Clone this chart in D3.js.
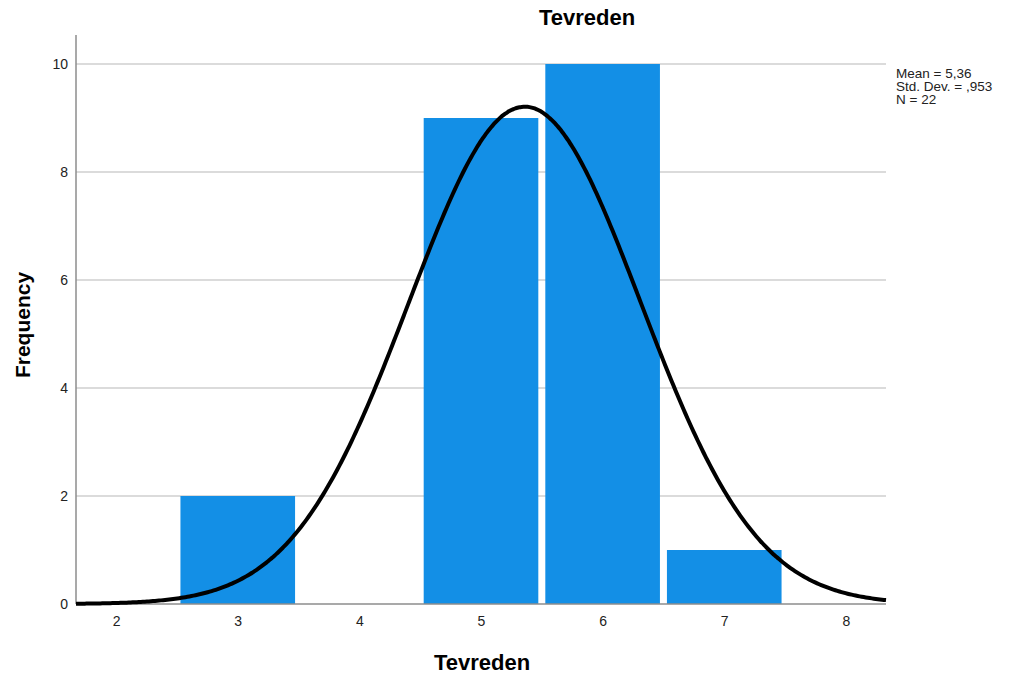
<!DOCTYPE html>
<html>
<head>
<meta charset="utf-8">
<script src="https://cdn.jsdelivr.net/npm/d3@7"></script>
<style>
  body { margin: 0; background: #fff; }
  text { font-family: Arial, "Liberation Sans", sans-serif; }
</style>
</head>
<body>
<svg id="chart" width="1011" height="681"></svg>
<script>
// Frequency histogram of "Tevreden" with a fitted normal curve
const binValues = [3, 4, 5, 6, 7];
const frequencies = [2, 0, 9, 10, 1];
const xTickValues = [2, 3, 4, 5, 6, 7, 8];
const yTickValues = [0, 2, 4, 6, 8, 10];
const statLines = ["Mean = 5,36", "Std. Dev. = ,953", "N = 22"];
const mean = 5.36, stdDev = 0.953, n = 22;

const svg = d3.select("#chart");
const plotLeft = 76, plotRight = 886, plotTop = 35, plotBottom = 604;

const x = d3.scaleLinear().domain([1.67, 8.33]).range([plotLeft, plotRight]);
const y = d3.scaleLinear().domain([0, 10]).range([plotBottom, 64]);

// gridlines
svg.append("g").selectAll("line").data(yTickValues.filter(d => d > 0)).join("line")
  .attr("x1", plotLeft).attr("x2", plotRight)
  .attr("y1", d => y(d)).attr("y2", d => y(d))
  .attr("stroke", "#cfcfcf").attr("stroke-width", 1.5);

// bars
svg.append("g").selectAll("rect").data(binValues.map((b, i) => ({b, f: frequencies[i]})).filter(d => d.f > 0))
  .join("rect")
  .attr("x", d => x(d.b - 0.5) + 3.5)
  .attr("width", d => x(d.b + 0.5) - x(d.b - 0.5) - 7)
  .attr("y", d => y(d.f))
  .attr("height", d => y(0) - y(d.f))
  .attr("fill", "#138fe6");

// y axis
const yAxis = svg.append("g").attr("transform", `translate(${plotLeft},0)`)
  .call(d3.axisLeft(y).tickValues(yTickValues).tickFormat(d3.format("d")).tickSize(0).tickPadding(8));
yAxis.select(".domain").remove();
yAxis.selectAll("text").attr("font-size", 14).attr("fill", "#222");
svg.append("line").attr("x1", plotLeft).attr("x2", plotLeft).attr("y1", plotTop).attr("y2", plotBottom)
  .attr("stroke", "#8c8c8c").attr("stroke-width", 1.5);

// x axis
const xAxis = svg.append("g").attr("transform", `translate(0,${plotBottom})`)
  .call(d3.axisBottom(x).tickValues(xTickValues).tickFormat(d3.format("d")).tickSize(0).tickPadding(12));
xAxis.select(".domain").remove();
xAxis.selectAll("text").attr("font-size", 14).attr("fill", "#222");
svg.append("line").attr("x1", plotLeft).attr("x2", plotRight).attr("y1", plotBottom).attr("y2", plotBottom)
  .attr("stroke", "#8c8c8c").attr("stroke-width", 1.5);

// normal curve scaled to counts (bin width 1)
const pdf = v => n / (stdDev * Math.sqrt(2 * Math.PI)) * Math.exp(-0.5 * ((v - mean) / stdDev) ** 2);
const xs = d3.range(0, 401).map(i => x.domain()[0] + (x.domain()[1] - x.domain()[0]) * i / 400);
svg.append("path")
  .datum(xs)
  .attr("d", d3.line().x(d => x(d)).y(d => y(pdf(d))).curve(d3.curveBasis))
  .attr("fill", "none").attr("stroke", "#000").attr("stroke-width", 4);

// titles
svg.append("text").attr("x", 587).attr("y", 25).attr("text-anchor", "middle")
  .attr("font-size", 22).attr("font-weight", "bold").text("Tevreden");
svg.append("text").attr("x", 482).attr("y", 670).attr("text-anchor", "middle")
  .attr("font-size", 22).attr("font-weight", "bold").text("Tevreden");
svg.append("text").attr("transform", "translate(30,325) rotate(-90)").attr("text-anchor", "middle")
  .attr("font-size", 21).attr("font-weight", "bold").text("Frequency");

// summary statistics
svg.append("g").selectAll("text").data(statLines).join("text")
  .attr("x", 896).attr("y", (d, i) => 78 + i * 13)
  .attr("font-size", 13.5).attr("fill", "#222").text(d => d);
</script>
</body>
</html>
